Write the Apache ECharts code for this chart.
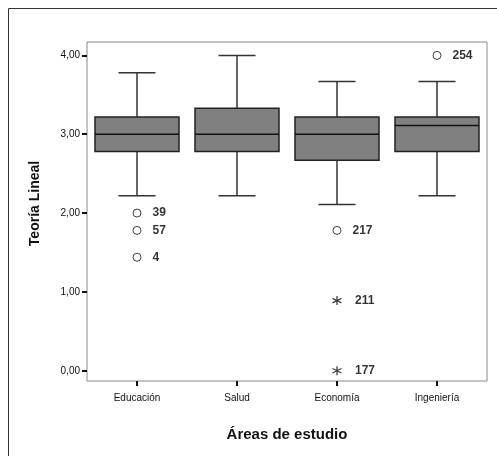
<!DOCTYPE html>
<html>
<head>
<meta charset="utf-8">
<script src="https://cdn.jsdelivr.net/npm/echarts@6/dist/echarts.min.js"></script>
<style>
html,body{margin:0;padding:0;background:#fff;}
#chart{width:497px;height:456px;}
</style>
</head>
<body>
<div id="chart"></div>
<script>
// Data
const categories = ['Educación', 'Salud', 'Economía', 'Ingeniería'];
// [low whisker, Q1, median, Q3, high whisker]
const boxStats = [
  [2.22, 2.78, 3.00, 3.22, 3.78],
  [2.22, 2.78, 3.00, 3.33, 4.00],
  [2.11, 2.67, 3.00, 3.22, 3.67],
  [2.22, 2.78, 3.11, 3.22, 3.67]
];
// outliers: [category index, value, case id]
const outliersCircle = [
  [0, 2.00, '39'],
  [0, 1.78, '57'],
  [0, 1.44, '4'],
  [2, 1.78, '217'],
  [3, 4.00, '254']
];
const outliersExtreme = [
  [2, 0.89, '211'],
  [2, 0.00, '177']
];
const yTicks = [0, 1, 2, 3, 4];

const chart = echarts.init(document.getElementById('chart'), null, {renderer: 'canvas'});
const font = '"Liberation Sans", Arial, sans-serif';

const boxData = boxStats.map((s, i) => [i].concat(s));

function renderBox(params, api) {
  const idx = api.value(0);
  const low = api.coord([idx, api.value(1)]);
  const q1 = api.coord([idx, api.value(2)]);
  const med = api.coord([idx, api.value(3)]);
  const q3 = api.coord([idx, api.value(4)]);
  const high = api.coord([idx, api.value(5)]);
  const band = api.size([1, 0])[0];
  const bw = band * 0.84;
  const cw = band * 0.37;
  const x = low[0];
  const lineStyle = {stroke: '#333', lineWidth: 1.5};
  return {
    type: 'group',
    children: [
      {type: 'line', shape: {x1: x, y1: high[1], x2: x, y2: q3[1]}, style: lineStyle},
      {type: 'line', shape: {x1: x, y1: q1[1], x2: x, y2: low[1]}, style: lineStyle},
      {type: 'line', shape: {x1: x - cw / 2, y1: high[1], x2: x + cw / 2, y2: high[1]}, style: lineStyle},
      {type: 'line', shape: {x1: x - cw / 2, y1: low[1], x2: x + cw / 2, y2: low[1]}, style: lineStyle},
      {type: 'rect', shape: {x: x - bw / 2, y: q3[1], width: bw, height: q1[1] - q3[1]},
        style: {fill: '#808080', stroke: '#222', lineWidth: 1.5}},
      {type: 'line', shape: {x1: x - bw / 2, y1: med[1], x2: x + bw / 2, y2: med[1]},
        style: {stroke: '#111', lineWidth: 1.5}}
    ]
  };
}

const labelStyle = {
  show: true, position: 'right', distance: 11,
  formatter: p => p.value[2],
  fontFamily: font, fontWeight: 'bold', fontSize: 12, color: '#000'
};

const option = {
  animation: false,
  backgroundColor: '#fff',
  graphic: [{
    type: 'rect', left: 6, top: 6,
    shape: {width: 520, height: 480},
    style: {fill: 'none', stroke: '#333', lineWidth: 1}
  }],
  grid: {
    left: 87, right: 10, top: 42, bottom: 75,
    show: true, borderColor: '#888', borderWidth: 1, backgroundColor: 'transparent'
  },
  xAxis: {
    type: 'category',
    data: categories,
    boundaryGap: true,
    axisLine: {show: false, onZero: false},
    axisTick: {show: true, alignWithLabel: true, length: 5, lineStyle: {color: '#111', width: 2}},
    axisLabel: {fontFamily: font, fontSize: 10, color: '#111', margin: 12},
    splitLine: {show: false},
    name: 'Áreas de estudio',
    nameLocation: 'middle',
    nameGap: 46,
    nameTextStyle: {fontFamily: font, fontWeight: 'bold', fontSize: 15, color: '#111'}
  },
  yAxis: {
    type: 'value',
    min: -0.13,
    max: 4.17,
    axisLine: {show: false},
    axisTick: {show: true, length: 5, customValues: yTicks, lineStyle: {color: '#111', width: 2}},
    axisLabel: {
      customValues: yTicks, fontFamily: font, fontSize: 10, color: '#111', margin: 7,
      formatter: v => v.toFixed(2).replace('.', ',')
    },
    splitLine: {show: false},
    name: 'Teoría Lineal',
    nameLocation: 'middle',
    nameGap: 45,
    nameTextStyle: {fontFamily: font, fontWeight: 'bold', fontSize: 14, color: '#111', padding: [0, 0, 0, 16]}
  },
  series: [
    {
      type: 'custom',
      renderItem: renderBox,
      encode: {x: 0, y: [1, 2, 3, 4, 5]},
      data: boxData,
      z: 2
    },
    {
      type: 'scatter',
      data: outliersCircle,
      symbol: 'circle',
      symbolSize: 8,
      itemStyle: {color: '#fff', borderColor: '#111', borderWidth: 1},
      label: labelStyle,
      z: 3
    },
    {
      type: 'scatter',
      data: outliersExtreme,
      symbol: 'path://M0,-10L0,10M-8.7,-5L8.7,5M-8.7,5L8.7,-5',
      symbolSize: 9,
      itemStyle: {color: 'none', borderColor: '#111', borderWidth: 1.3},
      label: labelStyle,
      z: 3
    }
  ]
};
chart.setOption(option);
</script>
</body>
</html>
